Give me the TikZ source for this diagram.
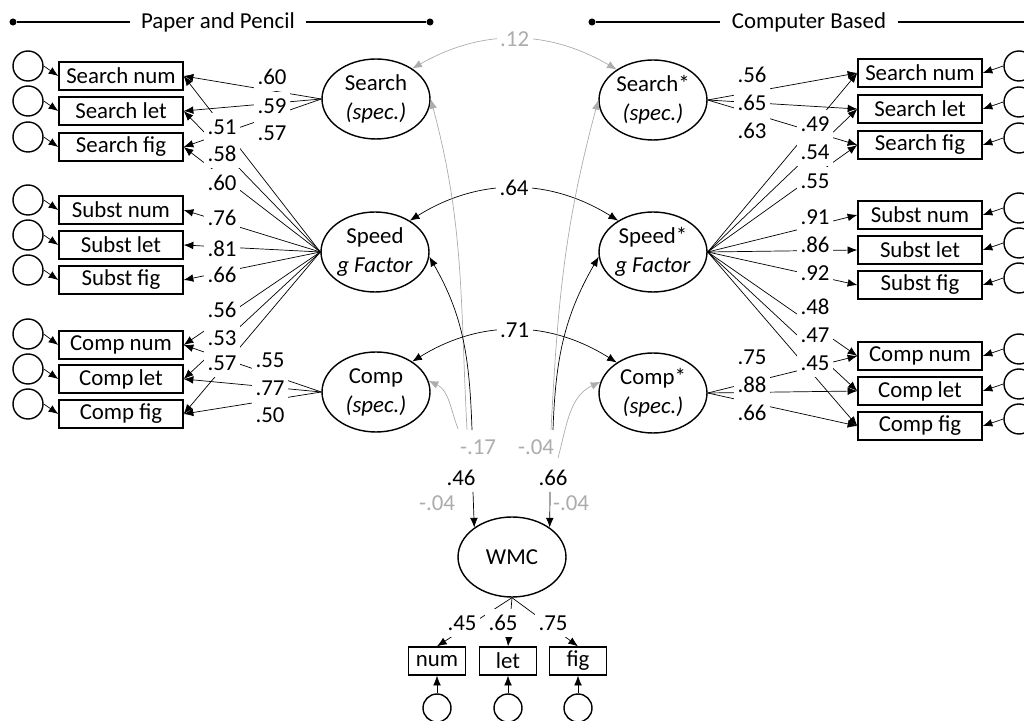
\documentclass[tikz,border=0pt]{standalone}
\usepackage{fontspec}
\setmainfont{Carlito}
\usepackage{tikz}
\usetikzlibrary{arrows.meta,shapes.geometric,backgrounds,positioning}
\definecolor{pathgrey}{RGB}{172,172,172}

\begin{document}
\begin{tikzpicture}[x=0.02cm, y=0.02cm, font=\fontsize{13}{16.5}\selectfont, line width=0.8pt,
  >={Latex[length=5.5pt,width=4.4pt]},
  ind/.style={draw, fill=white, minimum width=2.48cm, minimum height=0.56cm, inner sep=0pt},
  wind/.style={draw, fill=white, minimum width=1.14cm, minimum height=0.56cm, inner sep=0pt},
  err/.style={draw, circle, fill=white, minimum size=0.6cm, inner sep=0pt},
  werr/.style={err, minimum size=0.56cm},
  lat/.style={draw, ellipse, fill=white, minimum width=2.16cm, minimum height=1.6cm, inner sep=0pt, align=center},
  lab/.style={fill=white, inner sep=0pt, minimum width=0.72cm, minimum height=0.56cm},
  glab/.style={lab, text=pathgrey},
  gpath/.style={draw=pathgrey},
  dot/.style={circle, fill, inner sep=0pt, minimum size=4pt}]
  \useasboundingbox (0,0) rectangle (1024,720);

  \node[dot] (ppL) at (13,698) {};
  \node[dot] (ppR) at (430,698) {};
  \node[inner xsep=0.2cm] (pp) at (218,698) {Paper and Pencil};
  \node[dot] (cbL) at (592,698) {};
  \coordinate (cbR) at (1040,698);
  \node[inner xsep=0.22cm] (cb) at (809,698) {Computer Based};
  \draw (ppL) -- (pp);
  \draw (pp) -- (ppR);
  \draw (cbL) -- (cb);
  \draw (cb) -- (cbR);

  \node[ind] (snL) at (121,644) {Search num};
  \node[ind] (slL) at (121,609) {Search let};
  \node[ind] (sfL) at (121,573) {Search fig};
  \node[ind] (unL) at (121,510) {Subst num};
  \node[ind] (ulL) at (121,475) {Subst let};
  \node[ind] (ufL) at (121,440) {Subst fig};
  \node[ind] (cnL) at (121,375) {Comp num};
  \node[ind] (clL) at (121,341) {Comp let};
  \node[ind] (cfL) at (121,306) {Comp fig};

  \node[err] (esnL) at (28,654) {};
  \node[err] (eslL) at (28,619) {};
  \node[err] (esfL) at (28,583) {};
  \node[err] (eunL) at (28,520) {};
  \node[err] (eulL) at (28,485) {};
  \node[err] (eufL) at (28,450) {};
  \node[err] (ecnL) at (28,386) {};
  \node[err] (eclL) at (28,351) {};
  \node[err] (ecfL) at (28,316) {};

  \node[ind] (snR) at (920,647) {Search num};
  \node[ind] (slR) at (920,611) {Search let};
  \node[ind] (sfR) at (920,575) {Search fig};
  \node[ind] (unR) at (920,505) {Subst num};
  \node[ind] (ulR) at (920,470) {Subst let};
  \node[ind] (ufR) at (920,435) {Subst fig};
  \node[ind] (cnR) at (920,364) {Comp num};
  \node[ind] (clR) at (920,329) {Comp let};
  \node[ind] (cfR) at (920,294) {Comp fig};

  \node[err] (esnR) at (1019,654) {};
  \node[err] (eslR) at (1019,618) {};
  \node[err] (esfR) at (1019,582) {};
  \node[err] (eunR) at (1019,512) {};
  \node[err] (eulR) at (1019,477) {};
  \node[err] (eufR) at (1019,442) {};
  \node[err] (ecnR) at (1019,371) {};
  \node[err] (eclR) at (1019,336) {};
  \node[err] (ecfR) at (1019,301) {};

  \node[lat] (srch) at (376,621) {Search\\\textit{(spec.)}};
  \node[lat] (spd) at (375,468) {Speed\\\textit{g Factor}};
  \node[lat] (cmp) at (376,328) {Comp\\\textit{(spec.)}};
  \node[lat] (srchS) at (653,620) {Search*\\\textit{(spec.)}};
  \node[lat] (spdS) at (653,468) {Speed*\\\textit{g Factor}};
  \node[lat] (cmpS) at (653,327) {Comp*\\\textit{(spec.)}};
  \node[lat] (wmc) at (512,163) {WMC};

  \node[wind] (wn) at (437,59) {num};
  \node[wind] (wl) at (508,59) {let};
  \node[wind] (wf) at (578,59) {fig};
  \node[werr] (ewn) at (437,12) {};
  \node[werr] (ewl) at (508,12) {};
  \node[werr] (ewf) at (578,12) {};

  \node[lab] (a60) at (272,643) {.60};
  \node[lab] (a59) at (272,614) {.59};
  \node[lab] (a57) at (272,587) {.57};
  \node[lab] (b51) at (222,593) {.51};
  \node[lab] (b58) at (222,566) {.58};
  \node[lab] (b60) at (222,537) {.60};
  \node[lab] (b76) at (222,502) {.76};
  \node[lab] (b81) at (222,471) {.81};
  \node[lab] (b66) at (222,445) {.66};
  \node[lab] (b56) at (222,410) {.56};
  \node[lab] (b53) at (222,382) {.53};
  \node[lab] (b57) at (222,357) {.57};
  \node[lab] (c55) at (270,360) {.55};
  \node[lab] (c77) at (270,332) {.77};
  \node[lab] (c50) at (270,305) {.50};

  \node[lab] (d56) at (752,645) {.56};
  \node[lab] (d65) at (752,617) {.65};
  \node[lab] (d63) at (752,589) {.63};
  \node[lab] (e49) at (815,596) {.49};
  \node[lab] (e54) at (815,568) {.54};
  \node[lab] (e55) at (815,539) {.55};
  \node[lab] (e91) at (815,503) {.91};
  \node[lab] (e86) at (815,475) {.86};
  \node[lab] (e92) at (815,447) {.92};
  \node[lab] (e48) at (815,413) {.48};
  \node[lab] (e47) at (815,385) {.47};
  \node[lab] (e45) at (815,357) {.45};
  \node[lab] (f75) at (752,363) {.75};
  \node[lab] (f88) at (752,335) {.88};
  \node[lab] (f66) at (752,307) {.66};

  \node[glab] (g17) at (478,273) {-.17};
  \node[lab] (g46) at (461,242) {.46};
  \node[glab] (g04) at (437,217) {-.04};
  \node[glab] (h04) at (536,273) {-.04};
  \node[lab] (h66) at (553,242) {.66};
  \node[glab] (k04) at (571,217) {-.04};

  \node[lab] (w45) at (462,97) {.45};
  \node[lab] (w65) at (503,97) {.65};
  \node[lab] (w75) at (553,97) {.75};

  \begin{pgfonlayer}{background}
    \draw[->] (srch.west) -- (snL.east);
    \draw[->] (srch.west) -- (slL.east);
    \draw[->] (srch.west) -- (sfL.east);
    \draw[->] (spd.west) -- (snL.east);
    \draw[->] (spd.west) -- (slL.east);
    \draw[->] (spd.west) -- (sfL.east);
    \draw[->] (spd.west) -- (unL.east);
    \draw[->] (spd.west) -- (ulL.east);
    \draw[->] (spd.west) -- (ufL.east);
    \draw[->] (spd.west) -- (cnL.east);
    \draw[->] (spd.west) -- (clL.east);
    \draw[->] (spd.west) -- (cfL.east);
    \draw[->] (cmp.west) -- (cnL.east);
    \draw[->] (cmp.west) -- (clL.east);
    \draw[->] (cmp.west) -- (cfL.east);

    \draw[->] (srchS.east) -- (snR.west);
    \draw[->] (srchS.east) -- (slR.west);
    \draw[->] (srchS.east) -- (sfR.west);
    \draw[->] (spdS.east) -- (snR.west);
    \draw[->] (spdS.east) -- (slR.west);
    \draw[->] (spdS.east) -- (sfR.west);
    \draw[->] (spdS.east) -- (unR.west);
    \draw[->] (spdS.east) -- (ulR.west);
    \draw[->] (spdS.east) -- (ufR.west);
    \draw[->] (spdS.east) -- (cnR.west);
    \draw[->] (spdS.east) -- (clR.west);
    \draw[->] (spdS.east) -- (cfR.west);
    \draw[->] (cmpS.east) -- (cnR.west);
    \draw[->] (cmpS.east) -- (clR.west);
    \draw[->] (cmpS.east) -- (cfR.west);

    \draw[->] (wmc.south) -- (wn.north);
    \draw[->] (wmc.south) -- (wl.north);
    \draw[->] (wmc.south) -- (wf.north);
  \end{pgfonlayer}

  \draw[->] (esnL.east) -- (snL.west);
  \draw[->] (eslL.east) -- (slL.west);
  \draw[->] (esfL.east) -- (sfL.west);
  \draw[->] (eunL.east) -- (unL.west);
  \draw[->] (eulL.east) -- (ulL.west);
  \draw[->] (eufL.east) -- (ufL.west);
  \draw[->] (ecnL.east) -- (cnL.west);
  \draw[->] (eclL.east) -- (clL.west);
  \draw[->] (ecfL.east) -- (cfL.west);

  \draw[->] (esnR.west) -- (snR.east);
  \draw[->] (eslR.west) -- (slR.east);
  \draw[->] (esfR.west) -- (sfR.east);
  \draw[->] (eunR.west) -- (unR.east);
  \draw[->] (eulR.west) -- (ulR.east);
  \draw[->] (eufR.west) -- (ufR.east);
  \draw[->] (ecnR.west) -- (cnR.east);
  \draw[->] (eclR.west) -- (clR.east);
  \draw[->] (ecfR.west) -- (cfR.east);

  \draw[->] (ewn) -- (wn);
  \draw[->] (ewl) -- (wl);
  \draw[->] (ewf) -- (wf);

  \draw[gpath, <->] (srch.40) to[bend left=30] node[glab] {.12} (srchS.140);
  \draw[<->] (spd.42) to[bend left=32] node[lab] {.64} (spdS.138);
  \draw[<->] (cmp.40) to[bend left=32] node[lab] {.71} (cmpS.140);

  \coordinate (wlS) at (467,290);
  \coordinate (wlB) at (472,290);
  \coordinate (wlC) at (458,291);
  \coordinate (wlA) at (473,228);
  \coordinate (wrS) at (551,290);
  \coordinate (wrB) at (553,290);
  \coordinate (wrC) at (558,262);
  \coordinate (wrA) at (550,228);

  \draw[gpath, ->] (wlS) to[out=93, in=-75] (srch.east);
  \draw[gpath, ->] (wlC) to[out=110, in=-25] (cmp.12);
  \draw[->] (wlB) to[out=92, in=-60] (spd.-5);
  \draw[->] (wlA) -- (wmc.142);
  \draw[gpath, ->] (wrS) to[out=87, in=-105] (srchS.west);
  \draw[gpath, ->] (wrC) to[out=75, in=-155] (cmpS.168);
  \draw[->] (wrB) to[out=88, in=-120] (spdS.185);
  \draw[->] (wrA) -- (wmc.38);
\end{tikzpicture}
\end{document}
